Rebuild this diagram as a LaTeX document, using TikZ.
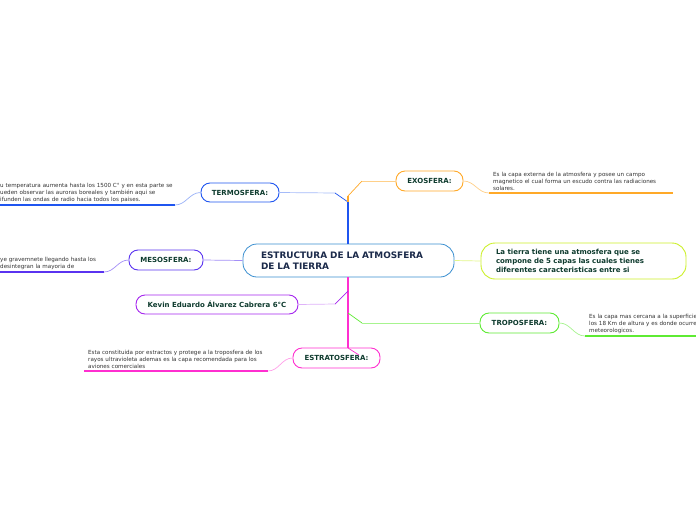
\documentclass[tikz,border=0pt]{standalone}
\usepackage{fontspec}
\setmainfont{DejaVu Sans}

\definecolor{titlec}{HTML}{1B2A4A}
\definecolor{labc}{HTML}{0E3B2E}
\definecolor{leafc}{HTML}{333333}
\definecolor{cenc}{HTML}{3A8FD0}
\definecolor{termoc}{HTML}{1F55F0}
\definecolor{exoc}{HTML}{FFA928}
\definecolor{mesoc}{HTML}{5A33F0}
\definecolor{kevinc}{HTML}{A526EE}
\definecolor{tropoc}{HTML}{5EEB33}
\definecolor{estratoc}{HTML}{FF2FD0}
\definecolor{infoc}{HTML}{CCF02A}

\begin{document}
\begin{tikzpicture}[x=1pt, y=-1pt,
	topic/.style={draw, fill=white, rounded corners=9pt, line width=0.9pt, text=labc, font=\fontsize{7}{8.5}\selectfont\bfseries, inner sep=0pt},
	leaf/.style={text=leafc, font=\fontsize{5.6}{6.9}\selectfont, align=left, text width=240pt, inner xsep=4pt, inner ysep=2pt, anchor=south west},
	trunk/.style={line width=2.2pt},
	twig/.style={line width=0.7pt},
	rule/.style={line width=1.3pt}]
	% page
	\fill[white] (0,0) rectangle (696,520);
	\clip (0,0) rectangle (696,520);
	% central topic
	\node[draw=cenc, fill=white, rounded corners=14pt, line width=0.8pt, text=titlec, font=\fontsize{8.9}{11}\selectfont\bfseries, align=left, text width=175pt, minimum width=211pt, minimum height=33pt, inner sep=0pt] (cen) at (348.5,260.5) {ESTRUCTURA DE LA ATMOSFERA\\DE LA TIERRA};
	% branches
	\node[topic, draw=termoc, minimum width=78pt, minimum height=19pt] (termo) at (240,192.5) {TERMOSFERA:};
	\node[topic, draw=exoc, minimum width=67pt, minimum height=20pt] (exo) at (429.5,181) {EXOSFERA:};
	\node[topic, draw=mesoc, minimum width=74pt, minimum height=20pt] (meso) at (166,260) {MESOSFERA:};
	\node[topic, draw=kevinc, minimum width=162pt, minimum height=19pt] (kevin) at (217,304.5) {Kevin Eduardo Álvarez Cabrera 6°C};
	\node[topic, draw=tropoc, minimum width=79pt, minimum height=20pt] (tropo) at (519.5,323) {TROPOSFERA:};
	\node[topic, draw=estratoc, minimum width=87pt, minimum height=20pt] (estrato) at (336.5,358) {ESTRATOSFERA:};
	\node[topic, draw=infoc, rounded corners=14pt, align=left, text width=175pt, minimum width=205pt, minimum height=36pt, font=\fontsize{7}{9}\selectfont\bfseries] (info) at (583.5,261) {La tierra tiene una atmosfera que se\\compone de 5 capas las cuales tienes\\diferentes caracteristicas entre si};
	% trunk joints
	\coordinate (topJ) at (348,202);
	\coordinate (midJ) at (348,291);
	\coordinate (lowJ) at (348,313);
	\coordinate (botJ) at (348,348);
	% trunk, upper part
	\draw[termoc, trunk] (cen.north -| topJ) -- (topJ);
	\draw[termoc, twig] (topJ) -- (335,193);
	\draw[termoc!40, twig] (335,193) -- (termo.east);
	\draw[exoc, trunk] (topJ) -- (348,196);
	\draw[exoc, twig] (348,196) -- (362,181);
	\draw[exoc!55, twig] (362,181) -- (exo.west);
	% trunk, lower part
	\draw[estratoc, trunk] (cen.south -| botJ) -- (botJ);
	\draw[kevinc, twig] (midJ) -- (335,304);
	\draw[kevinc!35, twig] (335,304) -- (kevin.east);
	\draw[tropoc, twig] (lowJ) -- (362,323);
	\draw[tropoc!55, twig] (362,323) -- (tropo.west);
	\draw[estratoc, twig] (botJ) -- (359,355);
	% side links
	\draw[mesoc!55, twig] (cen.west) -- (meso.east);
	\draw[infoc!55, twig] (cen.east) -- (info.west);
	% leaves: underline ends
	\coordinate (termoL) at (-4,205);  \coordinate (termoU) at (175,205);
	\coordinate (mesoL) at (-4,272);   \coordinate (mesoU) at (104,272);
	\coordinate (exoU) at (489,193);   \coordinate (exoE) at (673,193);
	\coordinate (tropoU) at (585,336); \coordinate (tropoE) at (700,336);
	\coordinate (estratoL) at (84,371); \coordinate (estratoU) at (268,371);
	% leaf texts
	\node[leaf] (termotxt) at (termoL) {u temperatura aumenta hasta los 1500 C° y en esta parte se\\ueden observar las auroras boreales y también aqui se\\ifunden las ondas de radio hacia todos los paises.};
	\node[leaf] (mesotxt) at (mesoL) {ye gravemnete llegando hasta los\\desintegran la mayoria de};
	\node[leaf] (exotxt) at (exoU) {Es la capa externa de la atmosfera y posee un campo\\magnetico el cual forma un escudo contra las radiaciones\\solares.};
	\node[leaf] (tropotxt) at (tropoU) {Es la capa mas cercana a la superficie\\los 18 Km de altura y es donde ocurren\\meteorologicos.};
	\node[leaf] (estratotxt) at (estratoL) {Esta constituida por estractos y protege a la troposfera de los\\rayos ultravioleta ademas es la capa recomendada para los\\aviones comerciales};
	% leaf links and underlines
	\draw[termoc!45, twig] (termo.west) to[out=180, in=0] (termoU);
	\draw[termoc, rule] (termoL) -- (termoU);
	\draw[mesoc!55, twig] (meso.west) to[out=180, in=0] (mesoU);
	\draw[mesoc, rule] (mesoL) -- (mesoU);
	\draw[exoc!55, twig] (exo.east) to[out=0, in=180] (exoU);
	\draw[exoc, rule] (exoU) -- (exoE);
	\draw[tropoc!55, twig] (tropo.east) to[out=0, in=180] (tropoU);
	\draw[tropoc, rule] (tropoU) -- (tropoE);
	\draw[estratoc!45, twig] (estrato.west) to[out=180, in=0] (estratoU);
	\draw[estratoc, rule] (estratoL) -- (estratoU);
\end{tikzpicture}
\end{document}
